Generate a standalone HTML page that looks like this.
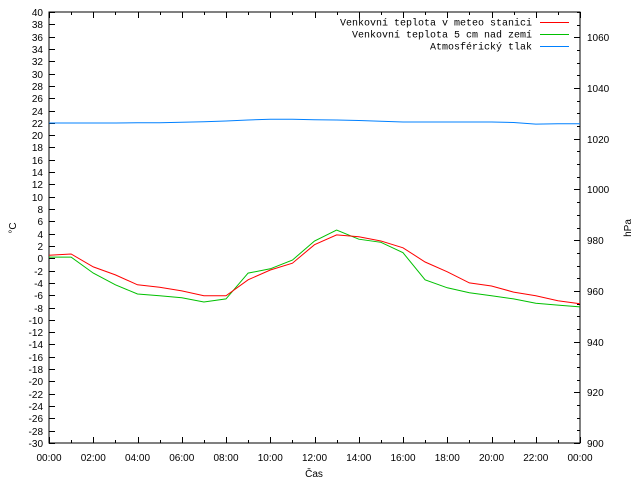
<!DOCTYPE html>
<html><head><meta charset="utf-8"><style>
body{margin:0;background:#fff}
text{font-family:"Liberation Sans",sans-serif;font-size:10px;fill:#000}
.leg{font-family:"Liberation Mono",monospace;font-size:10px}
</style></head><body>
<svg id="c" width="640" height="480" xmlns="http://www.w3.org/2000/svg"></svg>
<script>
const hours=[0,1,2,3,4,5,6,7,8,9,10,11,12,13,14,15,16,17,18,19,20,21,22,23,24];
const redTemp=[0.5,0.7,-1.4,-2.7,-4.3,-4.7,-5.3,-6.1,-6.1,-3.5,-1.9,-0.8,2.2,3.8,3.5,2.8,1.7,-0.6,-2.2,-4.0,-4.5,-5.5,-6.1,-6.9,-7.4];
const greenTemp=[0.2,0.2,-2.4,-4.3,-5.8,-6.1,-6.4,-7.1,-6.6,-2.4,-1.7,-0.3,2.8,4.6,3.1,2.6,0.9,-3.5,-4.8,-5.6,-6.1,-6.6,-7.3,-7.6,-7.9];
const pressure=[1026.2,1026.2,1026.2,1026.2,1026.3,1026.3,1026.5,1026.7,1027.0,1027.4,1027.7,1027.7,1027.5,1027.4,1027.2,1026.9,1026.6,1026.6,1026.6,1026.6,1026.6,1026.4,1025.8,1025.9,1025.9];
const xLabels=["00:00","02:00","04:00","06:00","08:00","10:00","12:00","14:00","16:00","18:00","20:00","22:00","00:00"];
const L=49,R=580,T=12,B=443;
const X=h=>L+(R-L)*h/24;
const Y=t=>B-(B-T)*(t+30)/70;
const Y2=p=>B-(B-T)*(p-900)/170;
const svg=document.getElementById('c');
const NS='http://www.w3.org/2000/svg';
function el(tag,attrs,parent){const e=document.createElementNS(NS,tag);for(const k in attrs)e.setAttribute(k,attrs[k]);(parent||svg).appendChild(e);return e;}
function txt(s,x,y,anchor,cls){const e=el('text',{x:x,y:y,'text-anchor':anchor});if(cls)e.setAttribute('class',cls);e.textContent=s;return e;}
// frame
const fr=el('rect',{x:L,y:T,width:R-L,height:B-T,fill:'none',stroke:'#000','stroke-width':1});


// left ticks
for(let t=-30;t<=40;t+=2){const y=Math.round(Y(t))+0.5;
 el('line',{x1:L,y1:y,x2:L+6,y2:y,stroke:'#000'});
 const lb=txt(String(t),43,y+3.5,'end');
 
 }
// right ticks
for(let p=900;p<=1070;p+=5){const y=Math.round(Y2(p))+0.5;
 el('line',{x1:R,y1:y,x2:R-(p%20==0?6:3),y2:y,stroke:'#000'});
 if(p%20==0){const lb=txt(String(p),587,y+3.5,'start');
 
 }}
// x ticks
for(let h=0;h<=24;h++){const x=Math.round(X(h))+0.5;const len=h%2==0?6:3;
 el('line',{x1:x,y1:B,x2:x,y2:B-len,stroke:'#000'});
 el('line',{x1:x,y1:T,x2:x,y2:T+len,stroke:'#000'});}
xLabels.forEach((s,i)=>{const lb=txt(s,X(i*2),461,'middle');
 
 });
// axis titles
const xt=txt('Čas',314,477,'middle');


const yt=txt('°C',0,0,'middle');yt.setAttribute('transform','translate(16,228) rotate(-90)');


const y2t=txt('hPa',0,0,'middle');y2t.setAttribute('transform','translate(631,228) rotate(-90)');


// series
function line(vals,fy,color,name){const d=vals.map((v,i)=>(i?'L':'M')+X(hours[i]).toFixed(1)+','+fy(v).toFixed(1)).join('');
 const p=el('path',{d:d,fill:'none',stroke:color,'stroke-width':1});
 
 }
line(pressure,Y2,'#0080ff','pressure-line');
line(greenTemp,Y,'#00c000','ground-temp-line');
line(redTemp,Y,'#ff0000','station-temp-line');
// legend
const leg=[['Venkovní teplota v meteo stanici','#ff0000'],['Venkovní teplota 5 cm nad zemí','#00c000'],['Atmosférický tlak','#0080ff']];
leg.forEach((l,i)=>{const y=22+i*12;
 const g=el('g',{});
 
 
 const t=txt(l[0],532,y+3.5,'end','leg');g.appendChild(t);
 el('line',{x1:540,y1:y+0.5,x2:569,y2:y+0.5,stroke:l[1]},g);});
</script>
</body></html>
